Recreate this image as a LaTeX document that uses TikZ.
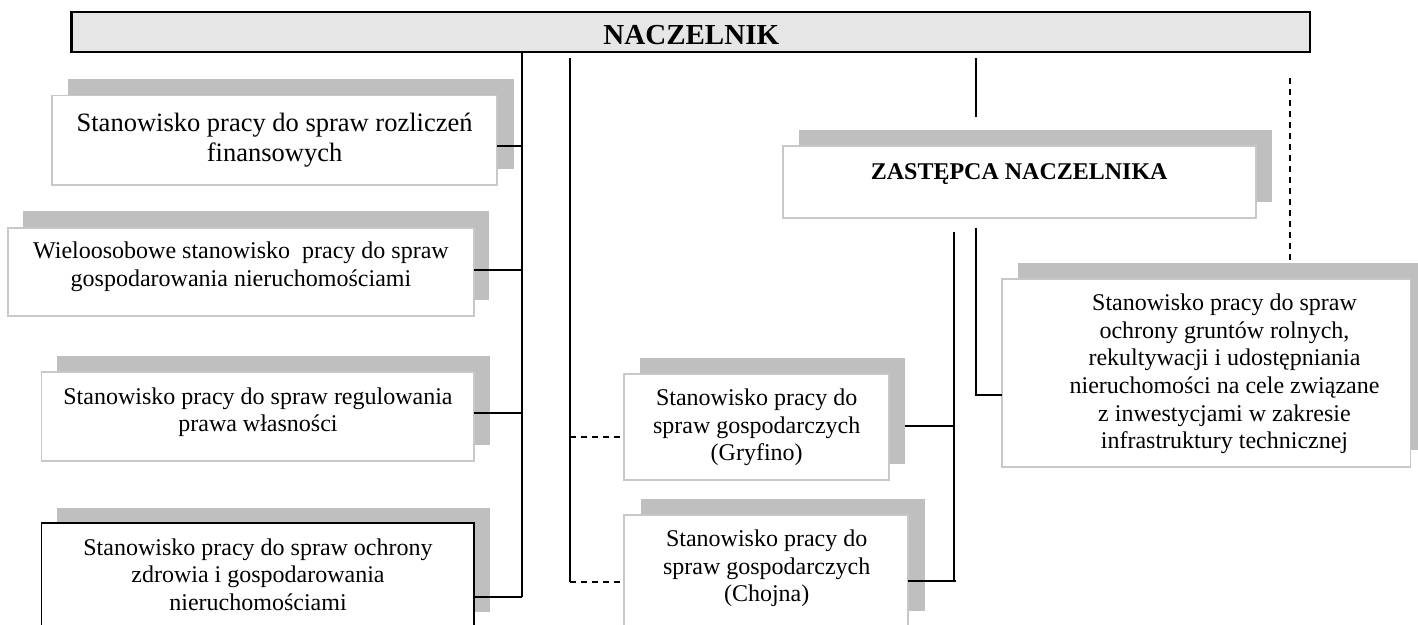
\documentclass[tikz,border=0pt]{standalone}
\usepackage{fontspec}
\setmainfont{Liberation Serif}
\definecolor{shadegray}{RGB}{191,191,191}
\definecolor{bordergray}{RGB}{200,200,200}
\definecolor{barfill}{RGB}{230,230,230}
\begin{document}
\begin{tikzpicture}[x=1pt,y=-1pt,
  shadowbox/.style={fill=shadegray, draw=none, inner sep=0pt, outer sep=0pt},
  frontbox/.style={fill=white, draw=bordergray, line width=1.7pt, inner sep=0pt, outer sep=0pt},
  boxtext/.style={align=center, inner sep=0pt, font=\fontsize{24}{27.6}\selectfont},
  link/.style={line width=1.8pt},
  dlink/.style={line width=1.8pt, dash pattern=on 6pt off 5pt}]
\useasboundingbox (0,0) rectangle (1418,624);
\clip (0,0) rectangle (1418,624);

% ---------- top bar ----------
\node[draw=black, fill=barfill, line width=2.2pt, inner sep=0pt, outer sep=0pt,
      minimum width=1238.6pt, minimum height=40pt] (nacz) at (690.7,31.7) {};
\node[anchor=base, inner sep=0pt, font=\fontsize{29}{33}\selectfont\bfseries] (naczt) at (691.3,44) {NACZELNIK};

% ---------- left column ----------
\node[shadowbox, minimum width=445.2pt, minimum height=89.8pt] (s1) at (290.9,124.1) {};
\node[frontbox, minimum width=445.2pt, minimum height=89.8pt] (b1) at (274.4,140.4) {};
\node[boxtext, font=\fontsize{26.5}{30}\selectfont] (t1) at (274.6,140.5)
  {\strut Stanowisko pracy do spraw rozliczeń\\finansowych\strut};

\node[shadowbox, minimum width=466.1pt, minimum height=88.3pt] (s2) at (256.3,255.4) {};
\node[frontbox, minimum width=466.1pt, minimum height=88.3pt] (b2) at (241,271.9) {};
\node[boxtext] (t2) at (241,267)
  {\strut Wieloosobowe stanowisko\ \ pracy do spraw\\gospodarowania nieruchomościami\strut};

\node[shadowbox, minimum width=432.2pt, minimum height=89pt] (s3) at (273.4,400.3) {};
\node[frontbox, minimum width=432.2pt, minimum height=89pt] (b3) at (257.6,416.2) {};
\node[boxtext] (t3) at (258,412.5)
  {\strut Stanowisko pracy do spraw regulowania\\prawa własności\strut};

\node[shadowbox, minimum width=432.2pt, minimum height=103.3pt] (s4) at (273.4,560) {};
\node[frontbox, draw=black, minimum width=432.2pt, minimum height=103.3pt] (b4) at (257.6,574.35) {};
\node[boxtext] (t4) at (258,577.4)
  {\strut Stanowisko pracy do spraw ochrony\\zdrowia i gospodarowania\\nieruchomościami\strut};

% ---------- deputy ----------
\node[shadowbox, minimum width=473.3pt, minimum height=72.3pt] (sz) at (1035.5,165.9) {};
\node[frontbox, minimum width=473.3pt, minimum height=72.3pt] (zast) at (1019.35,182.15) {};
\node[anchor=base, inner sep=0pt, font=\fontsize{24}{27.6}\selectfont\bfseries] (zastt) at (1019.2,179.3) {ZASTĘPCA NACZELNIKA};

% ---------- middle column ----------
\node[shadowbox, minimum width=265pt, minimum height=106pt] (sg) at (772.5,411.3) {};
\node[frontbox, minimum width=265pt, minimum height=106pt] (gry) at (756.5,427) {};
\node[boxtext] (tg) at (756.7,427.6)
  {\strut Stanowisko pracy do\\spraw gospodarczych\\(Gryfino)\strut};

\node[shadowbox, minimum width=283.7pt, minimum height=112pt] (sc) at (782.9,555.3) {};
\node[frontbox, minimum width=283.7pt, minimum height=112pt] (choj) at (765.85,571) {};
\node[boxtext] (tc) at (766.7,568.5)
  {\strut Stanowisko pracy do\\spraw gospodarczych\\(Chojna)\strut};

% ---------- right box ----------
\node[shadowbox, minimum width=408.8pt, minimum height=187.4pt] (sr) at (1222.7,356.4) {};
\node[frontbox, minimum width=408.8pt, minimum height=187.4pt] (rbox) at (1206.1,373) {};
\node[boxtext, font=\fontsize{24}{27.7}\selectfont] (tr) at (1224.5,374.2)
  {\strut Stanowisko pracy do spraw\\ochrony gruntów rolnych,\\rekultywacji i udostępniania\\nieruchomości na cele związane\\z inwestycjami w zakresie\\infrastruktury technicznej\strut};

% ---------- coordinates ----------
\coordinate (trunkL) at (522,596.7);
\coordinate (trunkMtop) at (570,58.3);
\coordinate (trunkMbot) at (570,581.7);
\coordinate (dz1) at (976,58.3);
\coordinate (dz2) at (976,116.7);
\coordinate (vA) at (954,231.7);
\coordinate (vB) at (976,227.7);
\coordinate (dtop) at (1290,78.3);

% ---------- connectors ----------
\draw[link] (nacz.south -| trunkL) -- (trunkL);
\draw[link] (b1.east |- 0,145.7) -- (trunkL |- 0,145.7);
\draw[link] (b2.east |- 0,270) -- (trunkL |- 0,270);
\draw[link] (b3.east |- 0,413.3) -- (trunkL |- 0,413.3);
\draw[link] (b4.east |- trunkL) -- (trunkL);

\draw[link] (trunkMtop) -- (trunkMbot);
\draw[dlink] (trunkMtop |- 0,437.3) -- ([xshift=-4pt]gry.west |- 0,437.3);
\draw[dlink] (trunkMbot) -- ([xshift=-4pt]choj.west |- trunkMbot);

\draw[link] (dz1) -- (dz2);

\draw[link] (sg.east |- 0,426) -- (vA |- 0,426);
\draw[link] (vA) -- (vA |- 0,580.7);
\draw[link] (choj.east |- 0,580.7) -- ([xshift=1.5pt]vA |- 0,580.7);

\draw[link] (vB) -- (vB |- 0,395) -- (rbox.west |- 0,395);

\draw[dlink] (dtop) -- (dtop |- sr.north);
\end{tikzpicture}
\end{document}
